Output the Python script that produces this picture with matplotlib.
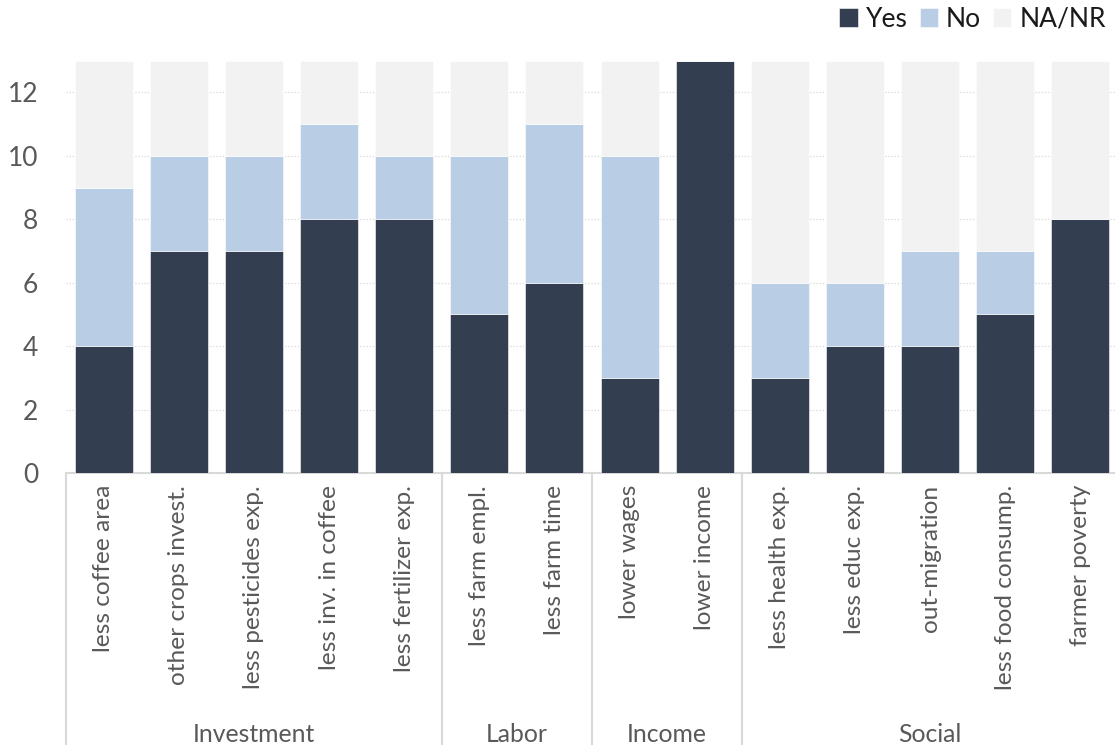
import numpy as np
import matplotlib
matplotlib.use('Agg')
import matplotlib.pyplot as plt
from matplotlib.transforms import blended_transform_factory

plt.rcParams['font.family'] = ['Lato', 'DejaVu Sans']

categories = ['less coffee area', 'other crops invest.', 'less pesticides exp.',
              'less inv. in coffee', 'less fertilizer exp.', 'less farm empl.',
              'less farm time', 'lower wages', 'lower income', 'less health exp.',
              'less educ exp.', 'out-migration', 'less food consump.', 'farmer poverty']
yes_vals = [4, 7, 7, 8, 8, 5, 6, 3, 13, 3, 4, 4, 5, 8]
no_vals = [5, 3, 3, 3, 2, 5, 5, 7, 0, 3, 2, 3, 2, 0]
na_vals = [4, 3, 3, 2, 3, 3, 2, 3, 0, 7, 7, 6, 6, 5]
groups = ['Investment', 'Labor', 'Income', 'Social']
group_sizes = [5, 2, 2, 5]

c_yes = '#333F50'
c_no = '#B9CDE5'
c_na = '#F2F2F2'
txt = '#595959'
line_c = '#D9D9D9'

fig = plt.figure(figsize=(11.15, 7.45), dpi=100)
ax = fig.add_axes([66 / 1115, 1 - 473 / 745, 1052 / 1115, (473 - 60.7) / 745])

x = np.arange(len(categories))
yes_arr = np.array(yes_vals)
no_arr = np.array(no_vals)
na_arr = np.array(na_vals)
w = 0.77
ax.bar(x, yes_arr, w, color=c_yes, edgecolor='white', linewidth=0.4, label='Yes', zorder=3)
ax.bar(x, no_arr, w, bottom=yes_arr, color=c_no, edgecolor='white', linewidth=0.4, label='No', zorder=3)
ax.bar(x, na_arr, w, bottom=yes_arr + no_arr, color=c_na, edgecolor='white', linewidth=0.4, label='NA/NR', zorder=3)

ax.set_xlim(-0.5, len(categories) - 0.5)
ax.set_ylim(0, 13)
ax.set_yticks(range(0, 13, 2))
ax.tick_params(axis='y', length=0, labelsize=19, labelcolor=txt, pad=20)
ax.set_xticks([])
for y in range(2, 13, 2):
    ax.axhline(y, color=line_c, lw=0.9, ls=(0, (1, 1.5)), zorder=1)
for s in ['top', 'right', 'left']:
    ax.spines[s].set_visible(False)
ax.spines['bottom'].set_color(line_c)
ax.spines['bottom'].set_linewidth(1.5)

trans = blended_transform_factory(ax.transData, ax.transAxes)
ax_h = 473 - 60.7
for i, c in enumerate(categories):
    ax.text(i, -12 / ax_h, c, rotation=90, ha='center', va='top', fontsize=17.6,
            color=txt, transform=trans)

# group separators and labels
bounds = np.concatenate([[0], np.cumsum(group_sizes)]) - 0.5
for b in bounds:
    ax.plot([b, b], [0, -(745 - 473) / ax_h], transform=trans, color=line_c,
            lw=1.5, clip_on=False)
for g, lo, hi in zip(groups, bounds[:-1], bounds[1:]):
    ax.text((lo + hi) / 2, -(735 - 473) / ax_h, g, ha='center', va='center',
            fontsize=17.8, color=txt, transform=trans)

leg = fig.legend(loc='upper right', bbox_to_anchor=(1.006, 1.012), ncol=3, frameon=False,
                 fontsize=19, handlelength=0.7, handleheight=0.7, handletextpad=0.3,
                 columnspacing=0.45, borderaxespad=0.2)
for t in leg.get_texts():
    t.set_color('#1a1a1a')

fig.savefig('out.png', dpi=100)
